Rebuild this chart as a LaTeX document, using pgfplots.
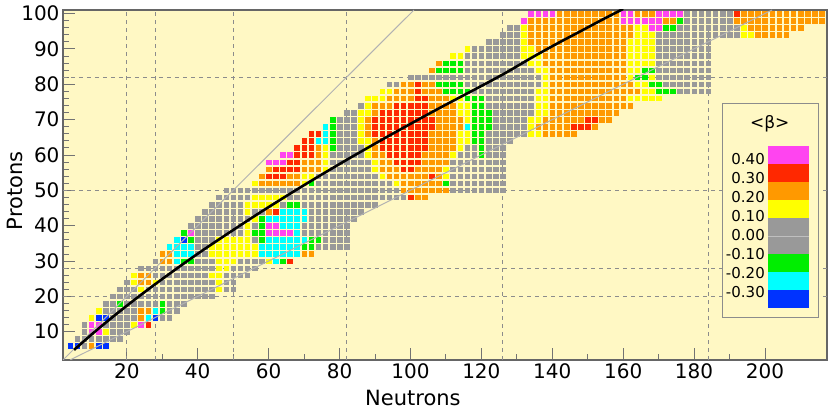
\documentclass[border=0pt]{standalone}
\usepackage{fontspec}
\setmainfont{DejaVu Sans}
\usepackage{pgfplots}
\pgfplotsset{compat=1.18}
\definecolor{cM}{RGB}{255,68,240}
\definecolor{cR}{RGB}{255,40,0}
\definecolor{cO}{RGB}{255,153,0}
\definecolor{cY}{RGB}{255,255,0}
\definecolor{cG}{RGB}{153,153,153}
\definecolor{cE}{RGB}{0,238,0}
\definecolor{cC}{RGB}{0,255,255}
\definecolor{cB}{RGB}{0,51,255}
\definecolor{bg}{RGB}{255,248,196}
\begin{document}
\begin{tikzpicture}[x=1pt,y=1pt]
\begin{axis}[
  at={(0,0)}, anchor=south west,
  scale only axis, width=764pt, height=350pt,
  xmin=2, xmax=217.5, ymin=2, ymax=101,
  axis background/.style={fill=bg},
  axis line style={draw=black!60, line width=1.2pt},
  tick align=inside, tick pos=left,
  xtick={20,40,...,200}, ytick={10,20,...,100},
  minor x tick num=1, minor y tick num=4,
  major tick length=12pt, minor tick length=6pt,
  tick style={black!55, line width=0.8pt},
  tick label style={font=\fontsize{20}{24}\selectfont, black},
  /pgf/number format/assume math mode=true,
  xlabel={Neutrons}, ylabel={Protons},
  label style={font=\fontsize{21}{25}\selectfont},
  xlabel style={at={(axis description cs:0.458,0)}, anchor=center, yshift=-38pt},
  ylabel style={at={(axis description cs:-0.0628,0.483)}, anchor=center},
  clip=true, clip marker paths=true,
]
\pgfplotsinvokeforeach{20,28,50,82,126,184}{
  \draw[black!45, dash pattern=on 4pt off 4pt, line width=0.9pt] (axis cs:#1,2) -- (axis cs:#1,101);
}
\pgfplotsinvokeforeach{20,28,50,82}{
  \draw[black!45, dash pattern=on 4pt off 4pt, line width=0.9pt] (axis cs:2,#1) -- (axis cs:217.5,#1);
}
\addplot[scatter, only marks, mark size=2.3pt, scatter src=explicit symbolic,
  scatter/classes={m={mark=square*,cM}, r={mark=square*,cR}, o={mark=square*,cO}, y={mark=square*,cY}, g={mark=square*,cG}, e={mark=square*,cE}, c={mark=square*,cC}, b={mark=square*,cB}}]
coordinates {
(4,6)[b] (6,6)[b] (8,6)[g] (10,6)[o] (12,6)[b] (14,6)[b]
(6,8)[g] (8,8)[g] (10,8)[g] (12,8)[g] (14,8)[g] (16,8)[g] (18,8)[g]
(8,10)[g] (10,10)[m] (12,10)[m] (14,10)[y] (16,10)[g] (18,10)[g] (20,10)[g]
(8,12)[g] (10,12)[m] (12,12)[m] (14,12)[g] (16,12)[g] (18,12)[g] (20,12)[g] (22,12)[y] (24,12)[m] (26,12)[r]
(10,14)[y] (12,14)[b] (14,14)[b] (16,14)[g] (18,14)[g] (20,14)[g] (22,14)[g] (24,14)[o] (26,14)[c] (28,14)[b] (30,14)[g] (32,14)[g]
(12,16)[y] (14,16)[g] (16,16)[g] (18,16)[g] (20,16)[g] (22,16)[g] (24,16)[o] (26,16)[o] (28,16)[c] (30,16)[e] (32,16)[g] (34,16)[g]
(14,18)[g] (16,18)[g] (18,18)[e] (20,18)[g] (22,18)[g] (24,18)[g] (26,18)[g] (28,18)[g] (30,18)[e] (32,18)[g] (34,18)[g] (36,18)[g]
(16,20)[g] (18,20)[g] (20,20)[g] (22,20)[g] (24,20)[g] (26,20)[g] (28,20)[g] (30,20)[g] (32,20)[g] (34,20)[g] (36,20)[g] (38,20)[g] (40,20)[g] (42,20)[g] (44,20)[g]
(18,22)[g] (20,22)[g] (22,22)[g] (24,22)[y] (26,22)[g] (28,22)[g] (30,22)[g] (32,22)[g] (34,22)[g] (36,22)[g] (38,22)[g] (40,22)[g] (42,22)[g] (44,22)[g] (46,22)[y] (48,22)[g] (50,22)[g]
(20,24)[g] (22,24)[y] (24,24)[o] (26,24)[o] (28,24)[y] (30,24)[g] (32,24)[g] (34,24)[g] (36,24)[g] (38,24)[g] (40,24)[g] (42,24)[g] (44,24)[g] (46,24)[y] (48,24)[g] (50,24)[g]
(22,26)[y] (24,26)[o] (26,26)[o] (28,26)[g] (30,26)[g] (32,26)[g] (34,26)[g] (36,26)[g] (38,26)[g] (40,26)[g] (42,26)[g] (44,26)[y] (46,26)[y] (48,26)[g] (50,26)[g] (52,26)[g] (54,26)[g]
(24,28)[g] (26,28)[g] (28,28)[g] (30,28)[g] (32,28)[g] (34,28)[g] (36,28)[g] (38,28)[g] (40,28)[g] (42,28)[g] (44,28)[g] (46,28)[y] (48,28)[y] (50,28)[g] (52,28)[g] (54,28)[g] (56,28)[g]
(28,30)[g] (30,30)[o] (32,30)[o] (34,30)[c] (36,30)[e] (38,30)[e] (40,30)[g] (42,30)[g] (44,30)[g] (46,30)[y] (48,30)[y] (50,30)[y] (52,30)[g] (54,30)[g] (56,30)[g] (58,30)[g] (60,30)[y] (62,30)[c] (64,30)[e] (66,30)[r]
(30,32)[o] (32,32)[o] (34,32)[c] (36,32)[c] (38,32)[c] (40,32)[g] (42,32)[g] (44,32)[y] (46,32)[y] (48,32)[y] (50,32)[y] (52,32)[y] (54,32)[y] (56,32)[y] (58,32)[c] (60,32)[c] (62,32)[c] (64,32)[c] (66,32)[c] (68,32)[c] (70,32)[o] (72,32)[o]
(32,34)[c] (34,34)[c] (36,34)[c] (38,34)[c] (40,34)[g] (42,34)[g] (44,34)[y] (46,34)[y] (48,34)[y] (50,34)[y] (52,34)[y] (54,34)[y] (56,34)[y] (58,34)[c] (60,34)[c] (62,34)[c] (64,34)[c] (66,34)[c] (68,34)[c] (70,34)[e] (72,34)[e] (74,34)[g] (76,34)[g] (78,34)[g] (80,34)[g] (82,34)[g]
(34,36)[c] (36,36)[b] (38,36)[e] (40,36)[g] (42,36)[g] (44,36)[g] (46,36)[y] (48,36)[y] (50,36)[y] (52,36)[y] (54,36)[y] (56,36)[g] (58,36)[e] (60,36)[c] (62,36)[c] (64,36)[c] (66,36)[c] (68,36)[c] (70,36)[c] (72,36)[e] (74,36)[e] (76,36)[g] (78,36)[g] (80,36)[g] (82,36)[g]
(36,38)[e] (38,38)[m] (40,38)[g] (42,38)[g] (44,38)[g] (46,38)[g] (48,38)[g] (50,38)[g] (52,38)[g] (54,38)[y] (56,38)[e] (58,38)[e] (60,38)[m] (62,38)[m] (64,38)[m] (66,38)[m] (68,38)[c] (70,38)[g] (72,38)[g] (74,38)[g] (76,38)[g] (78,38)[g] (80,38)[g] (82,38)[g]
(38,40)[g] (40,40)[g] (42,40)[g] (44,40)[g] (46,40)[g] (48,40)[g] (50,40)[g] (52,40)[g] (54,40)[y] (56,40)[g] (58,40)[e] (60,40)[m] (62,40)[m] (64,40)[c] (66,40)[c] (68,40)[c] (70,40)[g] (72,40)[g] (74,40)[g] (76,40)[g] (78,40)[g] (80,40)[g] (82,40)[g]
(40,42)[g] (42,42)[g] (44,42)[g] (46,42)[g] (48,42)[g] (50,42)[g] (52,42)[g] (54,42)[g] (56,42)[y] (58,42)[e] (60,42)[c] (62,42)[c] (64,42)[c] (66,42)[c] (68,42)[c] (70,42)[c] (72,42)[g] (74,42)[g] (76,42)[g] (78,42)[g] (80,42)[g] (82,42)[g] (84,42)[g]
(42,44)[g] (44,44)[g] (46,44)[g] (48,44)[g] (50,44)[g] (52,44)[g] (54,44)[y] (56,44)[g] (58,44)[g] (60,44)[o] (62,44)[r] (64,44)[c] (66,44)[c] (68,44)[c] (70,44)[c] (72,44)[g] (74,44)[g] (76,44)[g] (78,44)[g] (80,44)[g] (82,44)[g] (84,44)[g] (86,44)[g]
(44,46)[g] (46,46)[g] (48,46)[g] (50,46)[g] (52,46)[g] (54,46)[y] (56,46)[y] (58,46)[y] (60,46)[y] (62,46)[y] (64,46)[g] (66,46)[e] (68,46)[e] (70,46)[g] (72,46)[g] (74,46)[g] (76,46)[g] (78,46)[g] (80,46)[g] (82,46)[g] (84,46)[g] (86,46)[g] (88,46)[g] (90,46)[g]
(46,48)[g] (48,48)[g] (50,48)[g] (52,48)[g] (54,48)[g] (56,48)[y] (58,48)[y] (60,48)[y] (62,48)[y] (64,48)[y] (66,48)[g] (68,48)[g] (70,48)[g] (72,48)[g] (74,48)[g] (76,48)[g] (78,48)[g] (80,48)[g] (82,48)[g] (84,48)[g] (86,48)[g] (88,48)[g] (90,48)[g] (92,48)[g] (94,48)[g] (96,48)[g] (98,48)[g] (100,48)[r] (102,48)[o] (104,48)[o]
(48,50)[g] (50,50)[g] (52,50)[g] (54,50)[g] (56,50)[g] (58,50)[g] (60,50)[g] (62,50)[g] (64,50)[g] (66,50)[g] (68,50)[g] (70,50)[g] (72,50)[g] (74,50)[g] (76,50)[g] (78,50)[g] (80,50)[g] (82,50)[g] (84,50)[g] (86,50)[g] (88,50)[g] (90,50)[g] (92,50)[g] (94,50)[g] (96,50)[g] (98,50)[o] (100,50)[o] (102,50)[o] (104,50)[o] (106,50)[o] (108,50)[o] (110,50)[o] (112,50)[g] (114,50)[g] (116,50)[g] (118,50)[g] (120,50)[g] (122,50)[g] (124,50)[g] (126,50)[g]
(56,52)[y] (58,52)[o] (60,52)[o] (62,52)[o] (64,52)[o] (66,52)[o] (68,52)[o] (70,52)[y] (72,52)[e] (74,52)[g] (76,52)[g] (78,52)[g] (80,52)[g] (82,52)[g] (84,52)[g] (86,52)[g] (88,52)[g] (90,52)[g] (92,52)[g] (94,52)[g] (96,52)[y] (98,52)[o] (100,52)[o] (102,52)[o] (104,52)[o] (106,52)[o] (108,52)[o] (110,52)[e] (112,52)[g] (114,52)[g] (116,52)[g] (118,52)[g] (120,52)[g] (122,52)[g] (124,52)[g] (126,52)[g]
(58,54)[o] (60,54)[r] (62,54)[r] (64,54)[r] (66,54)[o] (68,54)[o] (70,54)[y] (72,54)[y] (74,54)[g] (76,54)[g] (78,54)[g] (80,54)[g] (82,54)[g] (84,54)[g] (86,54)[g] (88,54)[g] (90,54)[g] (92,54)[y] (94,54)[o] (96,54)[o] (98,54)[o] (100,54)[o] (102,54)[o] (104,54)[o] (106,54)[r] (108,54)[o] (110,54)[y] (112,54)[g] (114,54)[g] (116,54)[g] (118,54)[g] (120,54)[g] (122,54)[g] (124,54)[g] (126,54)[g]
(60,56)[o] (62,56)[r] (64,56)[r] (66,56)[r] (68,56)[r] (70,56)[o] (72,56)[o] (74,56)[o] (76,56)[y] (78,56)[g] (80,56)[g] (82,56)[g] (84,56)[g] (86,56)[g] (88,56)[g] (90,56)[y] (92,56)[o] (94,56)[o] (96,56)[o] (98,56)[r] (100,56)[r] (102,56)[o] (104,56)[o] (106,56)[o] (108,56)[o] (110,56)[y] (112,56)[g] (114,56)[g] (116,56)[g] (118,56)[g] (120,56)[g] (122,56)[g] (124,56)[g] (126,56)[g]
(60,58)[m] (62,58)[m] (64,58)[m] (66,58)[r] (68,58)[r] (70,58)[o] (72,58)[o] (74,58)[o] (76,58)[y] (78,58)[g] (80,58)[g] (82,58)[g] (84,58)[g] (86,58)[g] (88,58)[g] (90,58)[y] (92,58)[o] (94,58)[o] (96,58)[r] (98,58)[r] (100,58)[r] (102,58)[r] (104,58)[o] (106,58)[o] (108,58)[o] (110,58)[o] (112,58)[g] (114,58)[g] (116,58)[g] (118,58)[g] (120,58)[g] (122,58)[g] (124,58)[g] (126,58)[g]
(64,60)[m] (66,60)[m] (68,60)[r] (70,60)[r] (72,60)[r] (74,60)[o] (76,60)[y] (78,60)[g] (80,60)[g] (82,60)[g] (84,60)[g] (86,60)[g] (88,60)[y] (90,60)[o] (92,60)[o] (94,60)[r] (96,60)[r] (98,60)[r] (100,60)[r] (102,60)[r] (104,60)[o] (106,60)[o] (108,60)[o] (110,60)[o] (112,60)[y] (114,60)[g] (116,60)[g] (118,60)[g] (120,60)[e] (122,60)[g] (124,60)[g] (126,60)[g]
(68,62)[r] (70,62)[r] (72,62)[r] (74,62)[o] (76,62)[y] (78,62)[e] (80,62)[g] (82,62)[g] (84,62)[g] (86,62)[g] (88,62)[y] (90,62)[o] (92,62)[r] (94,62)[r] (96,62)[r] (98,62)[r] (100,62)[r] (102,62)[r] (104,62)[r] (106,62)[o] (108,62)[o] (110,62)[o] (112,62)[o] (114,62)[y] (116,62)[g] (118,62)[g] (120,62)[e] (122,62)[g] (124,62)[g] (126,62)[g]
(70,64)[r] (72,64)[r] (74,64)[c] (76,64)[c] (78,64)[e] (80,64)[g] (82,64)[g] (84,64)[g] (86,64)[y] (88,64)[y] (90,64)[o] (92,64)[r] (94,64)[r] (96,64)[r] (98,64)[r] (100,64)[r] (102,64)[r] (104,64)[r] (106,64)[o] (108,64)[o] (110,64)[o] (112,64)[o] (114,64)[y] (116,64)[y] (118,64)[e] (120,64)[e] (122,64)[g] (124,64)[g] (126,64)[g] (128,64)[g]
(72,66)[r] (74,66)[r] (76,66)[c] (78,66)[e] (80,66)[g] (82,66)[g] (84,66)[g] (86,66)[y] (88,66)[o] (90,66)[r] (92,66)[r] (94,66)[r] (96,66)[r] (98,66)[r] (100,66)[r] (102,66)[r] (104,66)[r] (106,66)[o] (108,66)[o] (110,66)[o] (112,66)[o] (114,66)[y] (116,66)[y] (118,66)[e] (120,66)[e] (122,66)[g] (124,66)[g] (126,66)[g] (128,66)[g] (130,66)[g] (132,66)[g] (134,66)[y] (136,66)[y] (138,66)[o] (140,66)[o] (142,66)[o] (144,66)[o] (146,66)[o]
(76,68)[c] (78,68)[e] (80,68)[g] (82,68)[g] (84,68)[g] (86,68)[y] (88,68)[o] (90,68)[r] (92,68)[r] (94,68)[r] (96,68)[r] (98,68)[r] (100,68)[r] (102,68)[r] (104,68)[r] (106,68)[r] (108,68)[o] (110,68)[o] (112,68)[o] (114,68)[o] (116,68)[c] (118,68)[e] (120,68)[e] (122,68)[e] (124,68)[g] (126,68)[g] (128,68)[g] (130,68)[g] (132,68)[g] (134,68)[y] (136,68)[o] (138,68)[o] (140,68)[o] (142,68)[o] (144,68)[o] (146,68)[r] (148,68)[r] (150,68)[r] (152,68)[o]
(78,70)[e] (80,70)[g] (82,70)[g] (84,70)[g] (86,70)[y] (88,70)[o] (90,70)[r] (92,70)[r] (94,70)[r] (96,70)[r] (98,70)[r] (100,70)[r] (102,70)[r] (104,70)[r] (106,70)[r] (108,70)[o] (110,70)[o] (112,70)[o] (114,70)[o] (116,70)[y] (118,70)[e] (120,70)[e] (122,70)[e] (124,70)[g] (126,70)[g] (128,70)[g] (130,70)[g] (132,70)[g] (134,70)[y] (136,70)[y] (138,70)[o] (140,70)[o] (142,70)[o] (144,70)[o] (146,70)[o] (148,70)[o] (150,70)[r] (152,70)[r] (154,70)[o] (156,70)[o]
(82,72)[g] (84,72)[g] (86,72)[y] (88,72)[y] (90,72)[o] (92,72)[r] (94,72)[r] (96,72)[r] (98,72)[r] (100,72)[r] (102,72)[r] (104,72)[r] (106,72)[o] (108,72)[o] (110,72)[o] (112,72)[o] (114,72)[y] (116,72)[y] (118,72)[e] (120,72)[e] (122,72)[e] (124,72)[g] (126,72)[g] (128,72)[g] (130,72)[g] (132,72)[g] (134,72)[g] (136,72)[y] (138,72)[y] (140,72)[o] (142,72)[o] (144,72)[o] (146,72)[o] (148,72)[o] (150,72)[o] (152,72)[o] (154,72)[o] (156,72)[o] (158,72)[o]
(86,74)[g] (88,74)[y] (90,74)[o] (92,74)[o] (94,74)[o] (96,74)[r] (98,74)[r] (100,74)[r] (102,74)[r] (104,74)[r] (106,74)[o] (108,74)[o] (110,74)[o] (112,74)[o] (114,74)[y] (116,74)[y] (118,74)[e] (120,74)[e] (122,74)[g] (124,74)[g] (126,74)[g] (128,74)[g] (130,74)[g] (132,74)[g] (134,74)[g] (136,74)[y] (138,74)[y] (140,74)[o] (142,74)[o] (144,74)[o] (146,74)[o] (148,74)[o] (150,74)[o] (152,74)[o] (154,74)[o] (156,74)[o] (158,74)[o] (160,74)[o] (162,74)[o]
(88,76)[y] (90,76)[y] (92,76)[y] (94,76)[o] (96,76)[o] (98,76)[o] (100,76)[o] (102,76)[r] (104,76)[r] (106,76)[o] (108,76)[o] (110,76)[o] (112,76)[y] (114,76)[y] (116,76)[e] (118,76)[e] (120,76)[e] (122,76)[g] (124,76)[g] (126,76)[g] (128,76)[g] (130,76)[g] (132,76)[g] (134,76)[g] (136,76)[y] (138,76)[y] (140,76)[o] (142,76)[o] (144,76)[o] (146,76)[o] (148,76)[o] (150,76)[o] (152,76)[o] (154,76)[o] (156,76)[o] (158,76)[o] (160,76)[o] (162,76)[y] (164,76)[y] (166,76)[y] (168,76)[y] (170,76)[y]
(92,78)[y] (94,78)[y] (96,78)[o] (98,78)[o] (100,78)[o] (102,78)[r] (104,78)[o] (106,78)[o] (108,78)[o] (110,78)[e] (112,78)[e] (114,78)[e] (116,78)[e] (118,78)[g] (120,78)[g] (122,78)[g] (124,78)[g] (126,78)[g] (128,78)[g] (130,78)[g] (132,78)[g] (134,78)[g] (136,78)[y] (138,78)[y] (140,78)[o] (142,78)[o] (144,78)[o] (146,78)[o] (148,78)[o] (150,78)[o] (152,78)[o] (154,78)[o] (156,78)[o] (158,78)[o] (160,78)[o] (162,78)[o] (164,78)[o] (166,78)[y] (168,78)[y] (170,78)[e] (172,78)[e] (174,78)[e] (176,78)[g] (178,78)[g] (180,78)[g] (182,78)[g] (184,78)[g]
(94,80)[g] (96,80)[g] (98,80)[o] (100,80)[o] (102,80)[r] (104,80)[o] (106,80)[o] (108,80)[e] (110,80)[e] (112,80)[e] (114,80)[e] (116,80)[g] (118,80)[g] (120,80)[g] (122,80)[g] (124,80)[g] (126,80)[g] (128,80)[g] (130,80)[g] (132,80)[g] (134,80)[g] (136,80)[g] (138,80)[y] (140,80)[o] (142,80)[o] (144,80)[o] (146,80)[o] (148,80)[o] (150,80)[o] (152,80)[o] (154,80)[o] (156,80)[o] (158,80)[o] (160,80)[o] (162,80)[o] (164,80)[y] (166,80)[y] (168,80)[e] (170,80)[e] (172,80)[g] (174,80)[g] (176,80)[g] (178,80)[g] (180,80)[g] (182,80)[g] (184,80)[g]
(100,82)[g] (102,82)[g] (104,82)[g] (106,82)[g] (108,82)[g] (110,82)[g] (112,82)[g] (114,82)[g] (116,82)[g] (118,82)[g] (120,82)[g] (122,82)[g] (124,82)[g] (126,82)[g] (128,82)[g] (130,82)[g] (132,82)[g] (134,82)[g] (136,82)[g] (138,82)[y] (140,82)[o] (142,82)[o] (144,82)[o] (146,82)[o] (148,82)[o] (150,82)[o] (152,82)[o] (154,82)[o] (156,82)[o] (158,82)[o] (160,82)[o] (162,82)[y] (164,82)[e] (166,82)[e] (168,82)[y] (170,82)[g] (172,82)[g] (174,82)[g] (176,82)[g] (178,82)[g] (180,82)[g] (182,82)[g] (184,82)[g]
(106,84)[o] (108,84)[e] (110,84)[e] (112,84)[e] (114,84)[e] (116,84)[g] (118,84)[g] (120,84)[g] (122,84)[g] (124,84)[g] (126,84)[g] (128,84)[g] (130,84)[g] (132,84)[g] (134,84)[g] (136,84)[y] (138,84)[y] (140,84)[o] (142,84)[o] (144,84)[o] (146,84)[o] (148,84)[o] (150,84)[o] (152,84)[o] (154,84)[o] (156,84)[o] (158,84)[o] (160,84)[o] (162,84)[y] (164,84)[y] (166,84)[e] (168,84)[e] (170,84)[g] (172,84)[g] (174,84)[g] (176,84)[g] (178,84)[g] (180,84)[g] (182,84)[g] (184,84)[g]
(108,86)[o] (110,86)[e] (112,86)[e] (114,86)[e] (116,86)[g] (118,86)[g] (120,86)[g] (122,86)[g] (124,86)[g] (126,86)[g] (128,86)[g] (130,86)[g] (132,86)[g] (134,86)[y] (136,86)[y] (138,86)[o] (140,86)[o] (142,86)[o] (144,86)[o] (146,86)[o] (148,86)[o] (150,86)[o] (152,86)[o] (154,86)[o] (156,86)[o] (158,86)[o] (160,86)[o] (162,86)[y] (164,86)[y] (166,86)[y] (168,86)[y] (170,86)[g] (172,86)[g] (174,86)[g] (176,86)[g] (178,86)[g] (180,86)[g] (182,86)[g] (184,86)[g]
(112,88)[y] (114,88)[y] (116,88)[g] (118,88)[g] (120,88)[g] (122,88)[g] (124,88)[g] (126,88)[g] (128,88)[g] (130,88)[g] (132,88)[y] (134,88)[y] (136,88)[y] (138,88)[o] (140,88)[o] (142,88)[o] (144,88)[o] (146,88)[o] (148,88)[o] (150,88)[o] (152,88)[o] (154,88)[o] (156,88)[o] (158,88)[o] (160,88)[o] (162,88)[y] (164,88)[y] (166,88)[y] (168,88)[y] (170,88)[g] (172,88)[g] (174,88)[g] (176,88)[g] (178,88)[g] (180,88)[g] (182,88)[g] (184,88)[g]
(116,90)[y] (118,90)[g] (120,90)[g] (122,90)[g] (124,90)[g] (126,90)[g] (128,90)[g] (130,90)[g] (132,90)[y] (134,90)[y] (136,90)[o] (138,90)[o] (140,90)[o] (142,90)[o] (144,90)[o] (146,90)[o] (148,90)[o] (150,90)[o] (152,90)[o] (154,90)[o] (156,90)[o] (158,90)[o] (160,90)[o] (162,90)[y] (164,90)[y] (166,90)[y] (168,90)[y] (170,90)[g] (172,90)[g] (174,90)[g] (176,90)[g] (178,90)[g] (180,90)[g] (182,90)[g] (184,90)[g]
(122,92)[g] (124,92)[g] (126,92)[g] (128,92)[g] (130,92)[g] (132,92)[y] (134,92)[o] (136,92)[o] (138,92)[o] (140,92)[o] (142,92)[o] (144,92)[o] (146,92)[o] (148,92)[o] (150,92)[o] (152,92)[o] (154,92)[o] (156,92)[o] (158,92)[o] (160,92)[o] (162,92)[y] (164,92)[y] (166,92)[y] (168,92)[y] (170,92)[g] (172,92)[g] (174,92)[g] (176,92)[g] (178,92)[g] (180,92)[g] (182,92)[g] (184,92)[g]
(126,94)[g] (128,94)[g] (130,94)[g] (132,94)[y] (134,94)[o] (136,94)[o] (138,94)[o] (140,94)[o] (142,94)[o] (144,94)[o] (146,94)[o] (148,94)[o] (150,94)[o] (152,94)[o] (154,94)[o] (156,94)[o] (158,94)[o] (160,94)[o] (162,94)[o] (164,94)[y] (166,94)[y] (168,94)[y] (170,94)[g] (172,94)[g] (174,94)[g] (176,94)[g] (178,94)[g] (180,94)[g] (182,94)[g] (184,94)[g] (186,94)[g] (188,94)[g] (190,94)[g] (192,94)[g] (194,94)[y] (196,94)[y] (198,94)[o] (200,94)[o] (202,94)[o] (204,94)[o] (206,94)[o]
(128,96)[g] (130,96)[g] (132,96)[y] (134,96)[o] (136,96)[o] (138,96)[o] (140,96)[o] (142,96)[o] (144,96)[o] (146,96)[o] (148,96)[o] (150,96)[o] (152,96)[o] (154,96)[o] (156,96)[o] (158,96)[o] (160,96)[o] (162,96)[o] (164,96)[y] (166,96)[y] (168,96)[m] (170,96)[m] (172,96)[e] (174,96)[e] (176,96)[g] (178,96)[g] (180,96)[g] (182,96)[g] (184,96)[g] (186,96)[g] (188,96)[g] (190,96)[g] (192,96)[g] (194,96)[y] (196,96)[o] (198,96)[o] (200,96)[o] (202,96)[o] (204,96)[o] (206,96)[o] (208,96)[o] (210,96)[o]
(132,98)[m] (134,98)[o] (136,98)[o] (138,98)[o] (140,98)[o] (142,98)[o] (144,98)[o] (146,98)[o] (148,98)[o] (150,98)[o] (152,98)[o] (154,98)[o] (156,98)[o] (158,98)[o] (160,98)[m] (162,98)[m] (164,98)[m] (166,98)[m] (168,98)[m] (170,98)[m] (172,98)[o] (174,98)[o] (176,98)[e] (178,98)[g] (180,98)[g] (182,98)[g] (184,98)[g] (186,98)[g] (188,98)[g] (190,98)[g] (192,98)[o] (194,98)[o] (196,98)[o] (198,98)[o] (200,98)[o] (202,98)[o] (204,98)[o] (206,98)[o] (208,98)[o] (210,98)[o] (212,98)[o] (214,98)[o] (216,98)[o]
(134,100)[m] (136,100)[m] (138,100)[m] (140,100)[m] (142,100)[o] (144,100)[o] (146,100)[o] (148,100)[o] (150,100)[o] (152,100)[o] (154,100)[o] (156,100)[o] (158,100)[o] (160,100)[m] (162,100)[m] (164,100)[o] (166,100)[o] (168,100)[o] (170,100)[m] (172,100)[m] (174,100)[m] (176,100)[m] (178,100)[g] (180,100)[g] (182,100)[g] (184,100)[g] (186,100)[g] (188,100)[g] (190,100)[g] (192,100)[r] (194,100)[o] (196,100)[o] (198,100)[o] (200,100)[o] (202,100)[o] (204,100)[o] (206,100)[o] (208,100)[o] (210,100)[o] (212,100)[o] (214,100)[o] (216,100)[o] (218,100)[o]
};
\addplot[black!30, line width=1pt] coordinates {(2,2) (101,101)};
\addplot[black!30, line width=1pt] coordinates {(4,2) (202,101)};
\addplot[black, line width=2.6pt, smooth] coordinates {
(5.13,4.87) (10.45,9.55) (15.91,14.09) (21.49,18.51) (27.17,22.83) (32.95,27.05) (38.79,31.21) (44.73,35.27) (56.79,43.21) (69.09,50.91) (81.62,58.38) (94.35,65.65) (107.25,72.75) (120.32,79.68) (127,83.3) (134,87.4) (141,91.3) (148,95.0) (154,98.2) (160,101.3)
};
\end{axis}
\draw[fill=bg, draw=black!45, line width=1pt] (659,42) rectangle (755,256);
\fill[cM] (705,196) rectangle (746,214);
\fill[cR] (705,178) rectangle (746,196);
\fill[cO] (705,160) rectangle (746,178);
\fill[cY] (705,142) rectangle (746,160);
\fill[cG] (705,106) rectangle (746,142);
\draw[black!25, line width=0.4pt] (705,124) -- (746,124);
\fill[cE] (705,88) rectangle (746,106);
\fill[cC] (705,70) rectangle (746,88);
\fill[cB] (705,52) rectangle (746,70);
\begin{scope}[every node/.style={anchor=east, font=\fontsize{15}{18}\selectfont, inner sep=0pt}]
\node at (702,200.5) {0.40};
\node at (702,181.5) {0.30};
\node at (702,162.5) {0.20};
\node at (702,143.5) {0.10};
\node at (702,124.5) {0.00};
\node at (702,105.5) {-0.10};
\node at (702,86.5) {-0.20};
\node at (702,67.5) {-0.30};
\end{scope}
\node[font=\fontsize{17}{20}\selectfont] at (706.7,236) {<β>};
\pgfresetboundingbox
\path (-63,-49) rectangle (765,360);
\end{tikzpicture}
\end{document}
